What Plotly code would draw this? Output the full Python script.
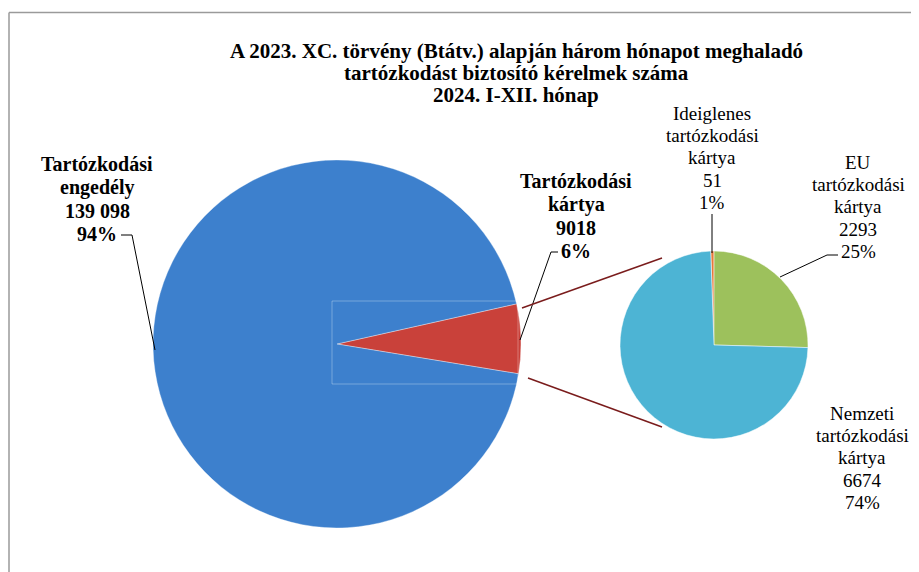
import plotly.graph_objects as go

# page body has an 8px margin, so figure starts at screen (8, 8)
OFF = 8
W, H = 911, 564

# ---- data ----
main_labels = ["Tartózkodási kártya", "Tartózkodási engedély"]
main_values = [9018, 139098]
sub_labels = ["Ideiglenes tartózkodási kártya", "EU tartózkodási kártya", "Nemzeti tartózkodási kártya"]
sub_values = [51, 2293, 6674]
title_lines = ["A 2023. XC. törvény (Btátv.) alapján három hónapot meghaladó",
               "tartózkodást biztosító kérelmek száma",
               "2024. I-XII. hónap"]

main_colors = ["#c9413a", "#3d80cd"]
sub_colors = ["#e8793a", "#9dc15c", "#4db4d4"]

FONT = "Liberation Serif"


def px(x, y):
    """screen pixel -> paper coords"""
    return (x - OFF) / W, 1 - (y - OFF) / H


def fmt(v):
    s = f"{v:,}".replace(",", " ")
    return s if v >= 10000 else str(v)


def pct(v, tot):
    return f"{round(100 * v / tot)}%"


fig = go.Figure()

# main pie
(mx0, my1), (mx1, my0) = px(153, 160), px(521, 528)
fig.add_trace(go.Pie(
    labels=main_labels, values=main_values, sort=False, direction="clockwise",
    rotation=77.4, textinfo="none", hoverinfo="label+value+percent",
    marker=dict(colors=main_colors, line=dict(color="rgba(255,255,255,0.35)", width=1)),
    domain=dict(x=[mx0, mx1], y=[my0, my1]), showlegend=False,
))

# secondary pie
(sx0, sy1), (sx1, sy0) = px(620, 251), px(808, 439)
fig.add_trace(go.Pie(
    labels=sub_labels, values=sub_values, sort=False, direction="clockwise",
    rotation=-2, textinfo="none", hoverinfo="label+value+percent",
    marker=dict(colors=sub_colors, line=dict(color="rgba(255,255,255,0.5)", width=1)),
    domain=dict(x=[sx0, sx1], y=[sy0, sy1]), showlegend=False,
))

main_tot = sum(main_values)
sub_tot = sum(sub_values)

annotations = []


def text_block(lines, x, y0, step, size, bold):
    for i, ln in enumerate(lines):
        ax, ay = px(x, y0 + i * step)
        annotations.append(dict(x=ax, y=ay, xref="paper", yref="paper",
                                text=f"<b>{ln}</b>" if bold else ln,
                                showarrow=False, xanchor="center", yanchor="middle",
                                font=dict(family=FONT, size=size, color="black")))


# title
text_block(title_lines, 516, 51, 22, 21, True)

# main labels (bold)
main_pos = [(576, 181), (97, 164)]
for lab, v, (x, y) in zip(main_labels, main_values, main_pos):
    text_block(lab.split(" ") + [fmt(v), pct(v, main_tot)], x, y, 23.3, 20, True)

# sub labels (regular)
sub_pos = [(712, 113), (858, 162), (862, 413)]
for lab, v, (x, y) in zip(sub_labels, sub_values, sub_pos):
    text_block(lab.split(" ") + [fmt(v), pct(v, sub_tot)], x, y, 22.4, 19, False)

shapes = []


def seg(p, q, color="black", width=1):
    (x0, y0), (x1, y1) = px(*p), px(*q)
    shapes.append(dict(type="line", xref="paper", yref="paper", x0=x0, y0=y0, x1=x1, y1=y1,
                       line=dict(color=color, width=width)))


# chart border (top & left)
seg((9, 12.5), (930, 12.5), "#9a9a9a", 1.5)
seg((9, 12.5), (9, 590), "#9a9a9a", 1.5)

# leader lines
seg((121, 235), (132, 235))
seg((132, 235), (155, 350))
seg((551, 252), (558, 252))
seg((551, 252), (520, 340))
seg((712, 214), (712, 253))
seg((827, 255), (838, 255))
seg((827, 255), (780, 277))

# connectors
seg((522, 308), (662, 258), "#7a1c1c", 1.5)
seg((528, 378), (662, 427), "#7a1c1c", 1.5)

# faint selection box artifact in main pie
(bx0, by1), (bx1, by0) = px(332, 301), px(518, 384)
shapes.append(dict(type="rect", xref="paper", yref="paper", x0=bx0, y0=by0, x1=bx1, y1=by1,
                   line=dict(color="rgba(255,255,255,0.3)", width=1)))

fig.update_layout(
    width=W, height=H, margin=dict(l=0, r=0, t=0, b=0),
    paper_bgcolor="white", plot_bgcolor="white",
    annotations=annotations, shapes=shapes,
    font=dict(family=FONT),
)

fig.write_html("out.html")
